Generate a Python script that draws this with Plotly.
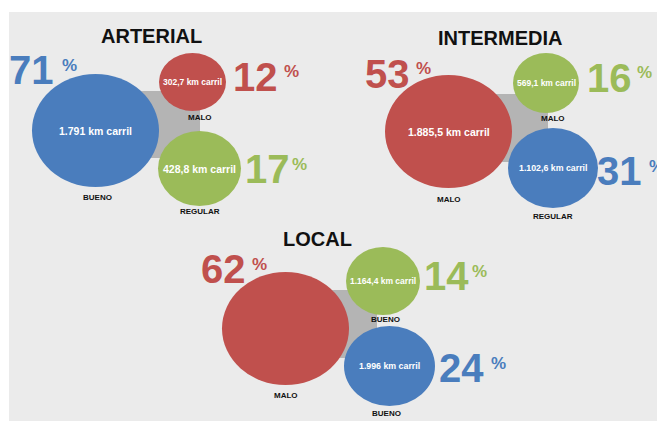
import plotly.graph_objects as go

# ---------------- data ----------------
groups = ["ARTERIAL", "INTERMEDIA", "LOCAL"]

arterial_labels = ["BUENO", "MALO", "REGULAR"]
arterial_km = [1791, 302.7, 428.8]
arterial_pct = [71, 12, 17]
arterial_colors = ["blue", "red", "green"]

intermedia_labels = ["MALO", "MALO", "REGULAR"]
intermedia_km = [1885.5, 569.1, 1102.6]
intermedia_pct = [53, 16, 31]
intermedia_colors = ["red", "green", "blue"]

local_labels = ["MALO", "BUENO", "BUENO"]
local_km = [None, 1164.4, 1996]
local_pct = [62, 14, 24]
local_colors = ["red", "green", "blue"]

palette = {"blue": "#4a7dbd", "red": "#c0504d", "green": "#9bbb59"}

# ---------------- layout (pixel positions in the 665x421 window) ----------------
W, H = 665, 421
OFF = 8  # page body margin
FONT = "Liberation Sans, Arial, sans-serif"

title_pos = [(151.5, 36), (500, 37.5), (317, 239)]
connector_box = [(128, 91, 200, 158), (478, 94, 548, 162), (318, 290, 377, 358)]
# per bubble: cx, cy, rx, ry, label x, label y, inner font, pct left x, pct center y, pct-sign left x
bubble_layout = [
    [(95.5, 130.5, 63.5, 56.5, 97, 197, 10.5, 10, 70, 63),
     (192.5, 82, 33.5, 29, 200, 117, 8.5, 234, 76.5, 285),
     (199.5, 168.5, 41.5, 37.5, 200, 211, 10.5, 246, 169, 293)],
    [(448.5, 131.5, 63.5, 56.5, 449, 199, 10.5, 366, 73.5, 417),
     (546, 83, 33, 30, 553, 118, 8.5, 588, 77.5, 638),
     (553, 168, 45, 40, 553, 216, 8.8, 598, 171, 650)],
    [(285.5, 328.5, 63.5, 56.5, 286, 395, 10, 202, 269, 253),
     (383, 281, 37, 34, 385, 319, 8.5, 425, 276, 473),
     (389.5, 366, 45.5, 40, 386, 413, 8.8, 440, 368, 492)],
]


def fmt_km(v):
    if float(v).is_integer():
        s = f"{int(v):,}".replace(",", ".")
    else:
        s = f"{v:,.1f}".replace(",", "X").replace(".", ",").replace("X", ".")
    return s + " km carril"


def rounded_rect(x0, y0, x1, y1, r):
    return (f"M {x0+r},{y0} L {x1-r},{y0} Q {x1},{y0} {x1},{y0+r} "
            f"L {x1},{y1-r} Q {x1},{y1} {x1-r},{y1} L {x0+r},{y1} "
            f"Q {x0},{y1} {x0},{y1-r} L {x0},{y0+r} Q {x0},{y0} {x0+r},{y0} Z")


data_sets = [
    (arterial_labels, arterial_km, arterial_pct, arterial_colors),
    (intermedia_labels, intermedia_km, intermedia_pct, intermedia_colors),
    (local_labels, local_km, local_pct, local_colors),
]

fig = go.Figure()
fig.add_trace(go.Scatter(x=[OFF, W], y=[OFF, H], mode="markers",
                         marker=dict(opacity=0), hoverinfo="skip", showlegend=False))

shapes = [dict(type="rect", xref="x", yref="y", x0=9, y0=12, x1=W + 5, y1=H + 5,
               fillcolor="#ebebeb", line=dict(width=0), layer="below")]
annotations = []

for g, (labels, kms, pcts, cols) in enumerate(data_sets):
    tx, ty = title_pos[g]
    annotations.append(dict(x=tx, y=ty, text=f"<b>{groups[g]}</b>", showarrow=False,
                            font=dict(family=FONT, size=20, color="#111111"),
                            xanchor="center", yanchor="middle"))
    bx0, by0, bx1, by1 = connector_box[g]
    shapes.append(dict(type="path", xref="x", yref="y", path=rounded_rect(bx0, by0, bx1, by1, 16),
                       fillcolor="#b4b4b4", line=dict(width=0)))
    for i in range(3):
        cx, cy, rx, ry, lx, ly, fs, px, py, sx = bubble_layout[g][i]
        color = palette[cols[i]]
        shapes.append(dict(type="circle", xref="x", yref="y",
                           x0=cx - rx, x1=cx + rx, y0=cy - ry, y1=cy + ry,
                           fillcolor=color, line=dict(width=0)))
        if kms[i] is not None:
            annotations.append(dict(x=cx, y=cy, text=f"<b>{fmt_km(kms[i])}</b>", showarrow=False,
                                    font=dict(family=FONT, size=fs, color="white"),
                                    xanchor="center", yanchor="middle"))
        annotations.append(dict(x=lx, y=ly, text=f"<b>{labels[i]}</b>", showarrow=False,
                                font=dict(family=FONT, size=8, color="#111111"),
                                xanchor="center", yanchor="middle"))
        annotations.append(dict(x=px, y=py, text=f"<b>{pcts[i]}</b>", showarrow=False,
                                font=dict(family=FONT, size=40, color=color),
                                xanchor="left", yanchor="middle", xshift=-3))
        annotations.append(dict(x=sx, y=py - 5, text="<b>%</b>", showarrow=False,
                                font=dict(family=FONT, size=17, color=color),
                                xanchor="left", yanchor="middle", xshift=-3))

fig.update_layout(
    width=W - OFF, height=H - OFF,
    margin=dict(l=0, r=0, t=0, b=0),
    paper_bgcolor="white", plot_bgcolor="white",
    xaxis=dict(range=[OFF, W], visible=False, fixedrange=True),
    yaxis=dict(range=[H, OFF], visible=False, fixedrange=True),
    shapes=shapes, annotations=annotations,
    showlegend=False,
)

fig.write_html("out.html")
